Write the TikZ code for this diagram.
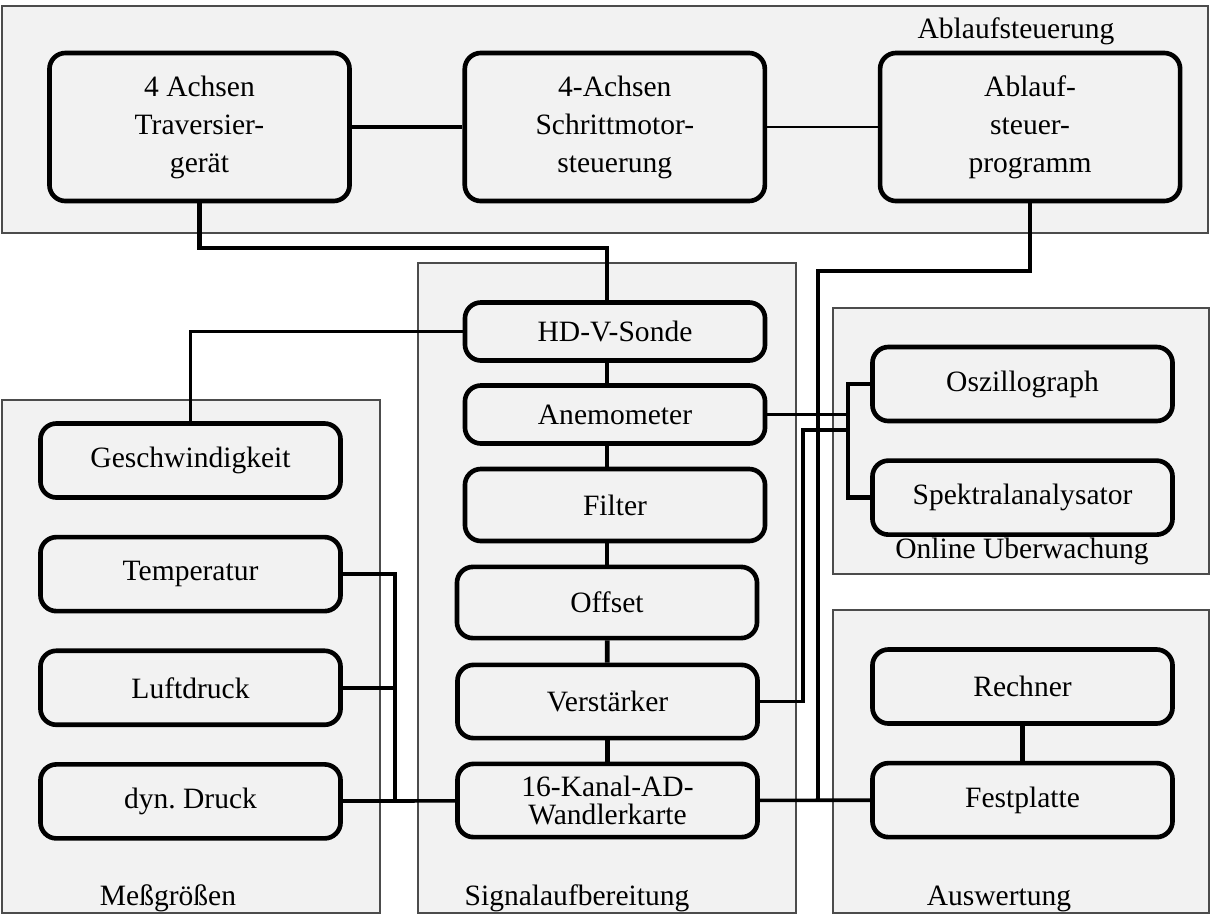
\documentclass[tikz,border=0pt]{standalone}
\usepackage{fontspec}
\setmainfont{Liberation Serif}

\begin{document}
\begin{tikzpicture}[x=0.025cm,y=-0.025cm,node distance=2.84cm,
    font=\fontsize{21}{27}\selectfont,
    group/.style={draw=black!70,line width=0.9pt,fill=black!5},
    block/.style={draw,line width=3.3pt,rounded corners=0.4cm,fill=black!5,
                  align=center,minimum width=7.5cm,minimum height=1.85cm},
    fatwire/.style={line width=3.3pt},
    wire/.style={line width=2.6pt},
    thinwire/.style={line width=1.6pt}]
      \useasboundingbox (0,0) rectangle (1212,917);

      % Gruppen
      \draw[group] (2,6) rectangle (1208,233);
      \draw[group] (418,263) rectangle (796,913);
      \draw[group] (2,400) rectangle (380,913);
      \draw[group] (833,308) rectangle (1209,574);
      \draw[group] (833,610) rectangle (1209,913);
      \node[anchor=base] (lab1) at (1016,38)  {Ablaufsteuerung};
      \node[anchor=base] (lab2) at (577,905)  {Signalaufbereitung};
      \node[anchor=base] (lab3) at (168,905)  {Meßgrößen};
      \node[anchor=base] (lab4) at (1022,558) {Online Überwachung};
      \node[anchor=base] (lab5) at (999,905)  {Auswertung};

      % Ablaufsteuerung
      \node[block,minimum height=3.7cm] (trav) at (199.5,127) {4 Achsen\\Traversier-\\gerät};
      \node[block,minimum height=3.7cm] (schritt) [right of=trav,node distance=10.38cm] {4-Achsen\\Schrittmotor-\\steuerung};
      \node[block,minimum height=3.7cm] (ablauf)  [right of=schritt,node distance=10.38cm] {Ablauf-\\steuer-\\programm};

      % Messgroessen
      \node[block] (geschw) at (190.5,460.5) {Geschwindigkeit};
      \node[block] (temp) [below of=geschw] {Temperatur};
      \node[block] (luft) [below of=temp]   {Luftdruck};
      \node[block] (dyn)  [below of=luft]   {dyn.\ Druck};

      % Signalaufbereitung
      \node[block,minimum height=1.45cm] (hdv)   at (615,331.5) {HD-V-Sonde};
      \node[block,minimum height=1.45cm] (anemo) at (615,414.5) {Anemometer};
      \node[block,minimum height=1.8cm]  (filt)  at (615,505)   {Filter};
      \node[block,minimum height=1.78cm] (offs)  at (607,602.5) {Offset};
      \node[block,minimum height=1.83cm] (verst) at (607.5,701.5) {Verstärker};
      \node[block,minimum height=1.83cm,font=\fontsize{21}{20}\selectfont] (ad) at (607.5,800.5) {16-Kanal-AD-\\Wandlerkarte};

      % Online Ueberwachung, Auswertung
      \node[block] (osz)  at (1022.5,384) {Oszillograph};
      \node[block] (spek) [below of=osz]  {Spektralanalysator};
      \node[block] (rech) at (1022.5,686.5) {Rechner};
      \node[block] (fest) [below of=rech] {Festplatte};

      \coordinate (k1) at (607,248);
      \coordinate (k2) at (818,271);
      \coordinate (k3) at (848,0);
      \coordinate (k4) at (803,430);
      \coordinate (k5) at (395,0);

      \draw[fatwire]  (trav) -- (schritt);
      \draw[thinwire] (schritt) -- (ablauf);
      \draw[fatwire]  (trav.south) |- (k1) -- (k1 |- hdv.north);
      \draw[fatwire]  (ablauf.south) |- (k2) -- (k2 |- fest.west);
      \draw[wire]     (hdv.west) -| (geschw.north);

      \draw[fatwire] (hdv.south -| offs)   -- (anemo.north -| offs);
      \draw[fatwire] (anemo.south -| offs) -- (filt.north -| offs);
      \draw[fatwire] (filt.south -| offs)  -- (offs.north);
      \draw[fatwire] (offs) -- (verst);
      \draw[fatwire] (verst) -- (ad);

      \draw[wire]    (anemo.east) -- (anemo.east -| k3);
      \draw[fatwire] (osz.west) -- (osz.west -| k3) -- (spek.west -| k3) -- (spek.west);
      \draw[wire]    (verst.east) -| (k4) -- (k4 -| k3);

      \draw[wire] (temp.east) -| (k5 |- dyn.east);
      \draw[wire] (luft.east) -- (luft.east -| k5);
      \draw[wire] (dyn) -- (ad);
      \draw[wire] (ad) -- (fest);
      \draw[fatwire] (rech) -- (fest);
    \end{tikzpicture}
\end{document}
